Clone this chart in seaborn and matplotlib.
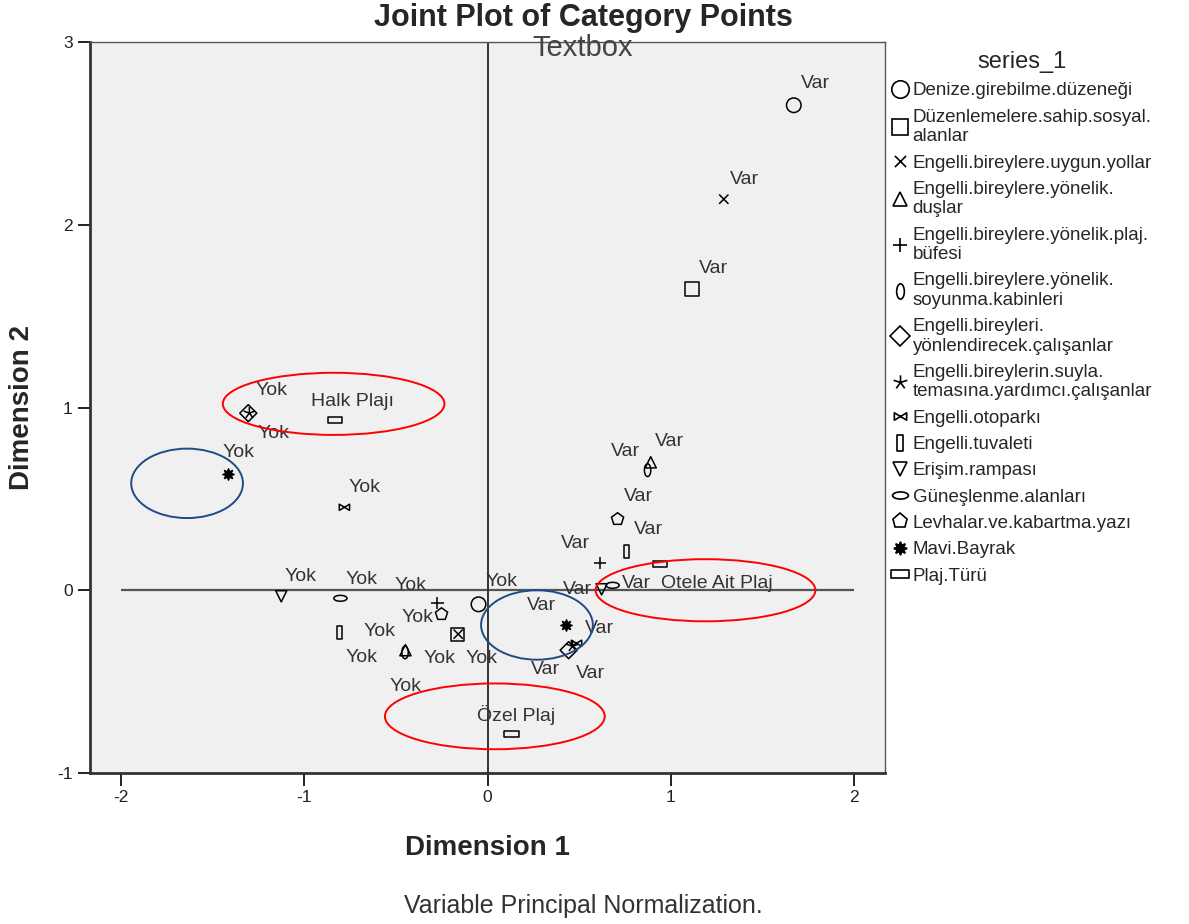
import numpy as np
import pandas as pd
import matplotlib
matplotlib.use("Agg")
import matplotlib.pyplot as plt
import seaborn as sns
from matplotlib.path import Path
from matplotlib.patches import Ellipse
from matplotlib.lines import Line2D

# ---------------- data ----------------
categories = [
    "Denize.girebilme.düzeneği",
    "Düzenlemelere.sahip.sosyal.\nalanlar",
    "Engelli.bireylere.uygun.yollar",
    "Engelli.bireylere.yönelik.\nduşlar",
    "Engelli.bireylere.yönelik.plaj.\nbüfesi",
    "Engelli.bireylere.yönelik.\nsoyunma.kabinleri",
    "Engelli.bireyleri.\nyönlendirecek.çalışanlar",
    "Engelli.bireylerin.suyla.\ntemasına.yardımcı.çalışanlar",
    "Engelli.otoparkı",
    "Engelli.tuvaleti",
    "Erişim.rampası",
    "Güneşlenme.alanları",
    "Levhalar.ve.kabartma.yazı",
    "Mavi.Bayrak",
]
var_x = [1.672, 1.115, 1.290, 0.891, 0.612, 0.874, 0.443, 0.464, 0.486, 0.760, 0.623, 0.683, 0.710, 0.426]
var_y = [2.654, 1.647, 2.140, 0.700, 0.148, 0.657, -0.328, -0.306, -0.290, 0.213, 0.005, 0.027, 0.389, -0.192]
yok_x = [-0.049, -0.164, -0.160, -0.448, -0.273, -0.450, -1.306, -1.300, -0.781, -0.809, -1.126, -0.803, -0.251, -1.415]
yok_y = [-0.077, -0.241, -0.240, -0.328, -0.071, -0.340, 0.969, 0.970, 0.454, -0.230, -0.033, -0.044, -0.131, 0.635]

plaj_name = "Plaj.Türü"
plaj_labels = ["Halk Plajı", "Otele Ait Plaj", "Özel Plaj"]
plaj_x = [-0.831, 0.940, 0.131]
plaj_y = [0.930, 0.142, -0.788]

# label offsets (pixels, screen: +x right, +y down) -- layout only
var_off = [(22, -22), (22, -21), (21, -20), (19, -21), (-24, -20), (-22, -19), (-23, 19),
           (18, 27), (23, -15), (22, -22), (-24, 0), (24, -2), (21, -23), (-24, -20)]
yok_off = [(23, -23), (24, 24), (-19, 24), (-26, -19), (-27, -18), (0, 34), (23, -23),
           (24, 21), (20, -20), (22, 25), (19, -20), (21, -19), (-24, 3), (10, -22)]
plaj_off = [(17, -19), (57, 19), (5, -19)]

# ---------------- markers ----------------
M, L, C = Path.MOVETO, Path.LINETO, Path.CLOSEPOLY
circ = Path.unit_circle()
x_path = Path([(-1, -1), (1, 1), (-1, 1), (1, -1)], [M, L, M, L])
plus_path = Path([(-1, 0), (1, 0), (0, -1), (0, 1)], [M, L, M, L])
vell = Path(circ.vertices * np.array([0.5, 1.0]), circ.codes)
hell = Path(circ.vertices * np.array([1.0, 0.45]), circ.codes)
ang = np.pi / 2 + np.arange(5) * 2 * np.pi / 5
ast_verts, ast_codes = [], []
for a in ang:
    ast_verts += [(0, 0), (np.cos(a), np.sin(a))]
    ast_codes += [M, L]
ast_path = Path(ast_verts, ast_codes)
bow_path = Path([(-1, -0.6), (0, 0), (-1, 0.6), (-1, -0.6), (1, -0.6), (0, 0), (1, 0.6), (1, -0.6)],
                [M, L, L, C, M, L, L, C])
trect = Path([(-0.4, -1), (0.4, -1), (0.4, 1), (-0.4, 1), (-0.4, -1)], [M, L, L, L, C])
wrect = Path([(-1, -0.4), (1, -0.4), (1, 0.4), (-1, 0.4), (-1, -0.4)], [M, L, L, L, C])

markers = ["o", "s", x_path, "^", plus_path, vell, "D", ast_path, bow_path, trect, "v", hell, "p", (8, 1, 0)]
sizes = [110, 95, 45, 65, 75, 85, 75, 75, 55, 90, 65, 90, 85, 65]
filled = [False] * 13 + [True]

# ---------------- figure ----------------
sns.set_style("ticks")
plt.rcParams["font.family"] = ["Liberation Sans", "DejaVu Sans"]

fig = plt.figure(figsize=(11.89, 9.24), dpi=100)
ax = fig.add_axes([90 / 1189, 1 - 773 / 924, 795 / 1189, 731 / 924])
ax.set_facecolor("#f0f0f0")

ax.hlines(0, -2, 2, color="#555555", lw=1.6, zorder=1)
ax.axvline(0, color="#333333", lw=1.4, zorder=1)

handles = []
for i, cat in enumerate(categories):
    df = pd.DataFrame({"x": [var_x[i], yok_x[i]], "y": [var_y[i], yok_y[i]]})
    sns.scatterplot(data=df, x="x", y="y", marker=markers[i], s=sizes[i], ax=ax,
                    legend=False, zorder=3)
    col = ax.collections[-1]
    col.set_facecolor("black" if filled[i] else "none")
    col.set_edgecolor("black")
    col.set_linewidth(1.1)
    handles.append(Line2D([], [], marker=markers[i], linestyle="none",
                          markersize=np.sqrt(sizes[i]) * 1.2,
                          markerfacecolor="black" if filled[i] else "none",
                          markeredgecolor="black", markeredgewidth=1.2))
dfp = pd.DataFrame({"x": plaj_x, "y": plaj_y})
sns.scatterplot(data=dfp, x="x", y="y", marker=wrect, s=105, ax=ax, legend=False, zorder=3)
col = ax.collections[-1]
col.set_facecolor("none")
col.set_edgecolor("black")
col.set_linewidth(1.1)
handles.append(Line2D([], [], marker=wrect, linestyle="none", markersize=13,
                      markerfacecolor="none", markeredgecolor="black", markeredgewidth=1.2))

# point labels
lab_kw = dict(textcoords="offset pixels", ha="center", va="center", fontsize=14, color="#333333")
for i in range(len(categories)):
    ax.annotate("Var", (var_x[i], var_y[i]), xytext=(var_off[i][0], -var_off[i][1]), **lab_kw)
    ax.annotate("Yok", (yok_x[i], yok_y[i]), xytext=(yok_off[i][0], -yok_off[i][1]), **lab_kw)
for i, t in enumerate(plaj_labels):
    ax.annotate(t, (plaj_x[i], plaj_y[i]), xytext=(plaj_off[i][0], -plaj_off[i][1]), **lab_kw)

# ellipses
ell = [((-0.84, 1.02), 1.21, 0.34, "red"),
       ((1.19, 0.0), 1.20, 0.34, "red"),
       ((0.04, -0.69), 1.20, 0.36, "red"),
       ((-1.64, 0.585), 0.61, 0.38, "#1f4a86"),
       ((0.27, -0.19), 0.61, 0.38, "#1f4a86")]
for c, w, h, colr in ell:
    ax.add_patch(Ellipse(c, w, h, fill=False, edgecolor=colr, lw=1.4, zorder=4))

ax.set_xlim(-2.17, 2.17)
ax.set_ylim(-1, 3)
ax.set_xticks([-2, -1, 0, 1, 2])
ax.set_yticks([-1, 0, 1, 2, 3])
ax.set_xticklabels(["-2", "-1", "0", "1", "2"])
ax.set_yticklabels(["-1", "0", "1", "2", "3"])
ax.tick_params(axis="both", direction="out", length=9, width=1.4, labelsize=12.5, colors="#222222")
for s in ax.spines.values():
    s.set_color("#555555")
    s.set_linewidth(1.0)
ax.spines["left"].set_linewidth(2.0)
ax.spines["bottom"].set_linewidth(2.0)
ax.spines["left"].set_color("#333333")
ax.spines["bottom"].set_color("#333333")

ax.set_xlabel("Dimension 1", fontsize=20, fontweight="bold", labelpad=21)
ax.set_ylabel("Dimension 2", fontsize=20, fontweight="bold", labelpad=16)

fig.text(583 / 1189, 1 - 18 / 924, "Joint Plot of Category Points", ha="center", va="center",
         fontsize=22, fontweight="bold")
fig.text(583 / 1189, 1 - 48 / 924, "Textbox", ha="center", va="center", fontsize=21, color="#444444")
fig.text(583 / 1189, 1 - 906 / 924, "Variable Principal Normalization.", ha="center", va="center",
         fontsize=18, color="#333333")

leg = fig.legend(handles, categories + [plaj_name], title="series_1", loc="upper left",
                 bbox_to_anchor=(878 / 1189, 1 - 38 / 924), frameon=False, fontsize=13.5,
                 title_fontsize=17, handlelength=0.9, handletextpad=0.25, labelspacing=0.49,
                 borderpad=0.2, alignment="center")

fig.savefig("out.png", dpi=100)
